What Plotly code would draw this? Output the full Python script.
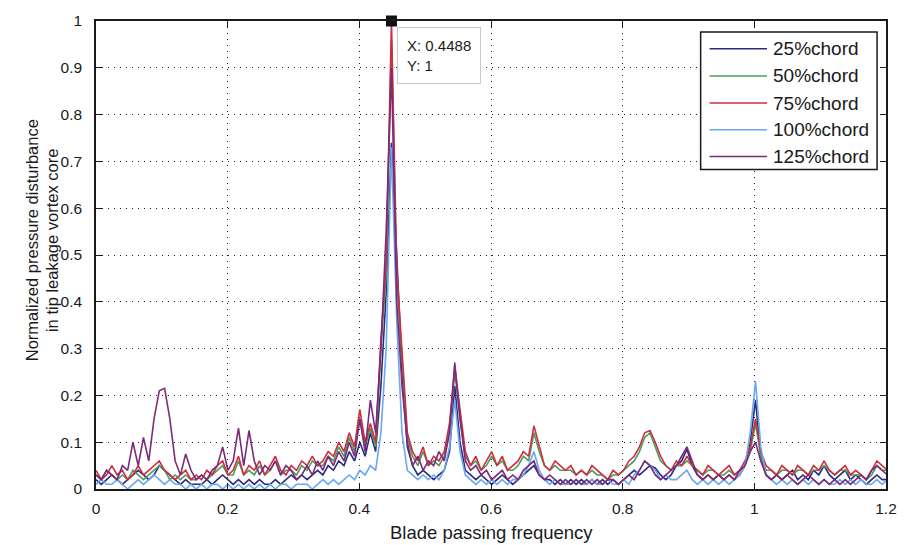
import numpy as np
import plotly.graph_objects as go

# Spectral bin width of the FFT (peak bin 56 sits at 0.4488)
BIN_WIDTH = 0.4488 / 56
N_BINS = 151
freq = np.arange(N_BINS) * BIN_WIDTH

labels = ["25%chord", "50%chord", "75%chord", "100%chord", "125%chord"]
colors = ["#2b2b82", "#4f9c5c", "#cc2f40", "#6aa8f0", "#7b2b79"]

chord25 = [
    0.02, 0.01, 0.02, 0.03, 0.02, 0.01, 0.02, 0.03, 0.04, 0.03,
    0.02, 0.03, 0.05, 0.04, 0.03, 0.02, 0.01, 0.02, 0.01, 0.01,
    0.01, 0.02, 0.01, 0.02, 0.03, 0.02, 0.01, 0.02, 0.01, 0.02,
    0.01, 0.02, 0.01, 0.01, 0.02, 0.01, 0.02, 0.03, 0.02, 0.03,
    0.02, 0.03, 0.04, 0.03, 0.05, 0.04, 0.06, 0.05, 0.08, 0.06,
    0.10, 0.07, 0.12, 0.08, 0.22, 0.42, 0.74, 0.50, 0.25, 0.09,
    0.05, 0.03, 0.04, 0.03, 0.02, 0.03, 0.04, 0.08, 0.22, 0.10,
    0.04, 0.03, 0.02, 0.03, 0.02, 0.01, 0.02, 0.03, 0.02, 0.01,
    0.02, 0.03, 0.04, 0.05, 0.03, 0.02, 0.02, 0.01, 0.02, 0.01,
    0.02, 0.01, 0.02, 0.01, 0.02, 0.01, 0.02, 0.01, 0.02, 0.01,
    0.02, 0.03, 0.04, 0.03, 0.04, 0.05, 0.045, 0.03, 0.02, 0.03,
    0.05, 0.06, 0.085, 0.05, 0.03, 0.02, 0.03, 0.02, 0.03, 0.02,
    0.03, 0.02, 0.03, 0.05, 0.10, 0.19, 0.07, 0.03, 0.02, 0.03,
    0.02, 0.03, 0.04, 0.02, 0.03, 0.02, 0.04, 0.03, 0.05, 0.03,
    0.02, 0.03, 0.04, 0.02, 0.03, 0.02, 0.01, 0.02, 0.03, 0.02, 0.02,
]

chord50 = [
    0.03, 0.02, 0.04, 0.03, 0.02, 0.03, 0.02, 0.04, 0.03, 0.02,
    0.03, 0.04, 0.05, 0.04, 0.02, 0.03, 0.02, 0.03, 0.02, 0.02,
    0.03, 0.02, 0.03, 0.04, 0.05, 0.03, 0.03, 0.06, 0.03, 0.04,
    0.03, 0.05, 0.03, 0.04, 0.06, 0.03, 0.04, 0.04, 0.03, 0.05,
    0.04, 0.06, 0.05, 0.05, 0.07, 0.06, 0.09, 0.07, 0.11, 0.08,
    0.15, 0.09, 0.13, 0.09, 0.30, 0.46, 0.96, 0.45, 0.28, 0.11,
    0.07, 0.05, 0.08, 0.05, 0.06, 0.05, 0.07, 0.13, 0.25, 0.15,
    0.07, 0.05, 0.06, 0.04, 0.05, 0.07, 0.05, 0.06, 0.04, 0.04,
    0.05, 0.07, 0.06, 0.12, 0.08, 0.05, 0.04, 0.05, 0.04, 0.04,
    0.04, 0.03, 0.04, 0.03, 0.04, 0.03, 0.03, 0.02, 0.03, 0.03,
    0.04, 0.05, 0.06, 0.08, 0.11, 0.12, 0.09, 0.06, 0.05, 0.04,
    0.05, 0.05, 0.06, 0.05, 0.04, 0.03, 0.04, 0.04, 0.03, 0.03,
    0.04, 0.03, 0.04, 0.05, 0.08, 0.14, 0.07, 0.04, 0.04, 0.03,
    0.04, 0.04, 0.03, 0.04, 0.04, 0.03, 0.04, 0.04, 0.05, 0.04,
    0.03, 0.04, 0.04, 0.03, 0.03, 0.03, 0.02, 0.03, 0.05, 0.04, 0.04,
]

chord75 = [
    0.04, 0.02, 0.03, 0.05, 0.03, 0.04, 0.02, 0.03, 0.05, 0.03,
    0.04, 0.05, 0.06, 0.04, 0.03, 0.02, 0.03, 0.04, 0.02, 0.03,
    0.02, 0.04, 0.03, 0.05, 0.06, 0.03, 0.04, 0.07, 0.03, 0.05,
    0.04, 0.06, 0.03, 0.05, 0.07, 0.04, 0.03, 0.05, 0.04, 0.06,
    0.05, 0.07, 0.05, 0.06, 0.08, 0.07, 0.10, 0.08, 0.12, 0.09,
    0.17, 0.10, 0.14, 0.10, 0.32, 0.48, 1.00, 0.47, 0.30, 0.12,
    0.08, 0.06, 0.09, 0.05, 0.07, 0.06, 0.08, 0.14, 0.26, 0.17,
    0.08, 0.05, 0.07, 0.04, 0.06, 0.08, 0.05, 0.07, 0.04, 0.05,
    0.06, 0.08, 0.07, 0.135, 0.09, 0.05, 0.04, 0.06, 0.05, 0.04,
    0.05, 0.03, 0.04, 0.03, 0.05, 0.04, 0.03, 0.02, 0.04, 0.03,
    0.04, 0.06, 0.07, 0.09, 0.12, 0.125, 0.10, 0.07, 0.05, 0.04,
    0.06, 0.05, 0.07, 0.05, 0.04, 0.03, 0.05, 0.04, 0.03, 0.04,
    0.05, 0.03, 0.04, 0.06, 0.09, 0.15, 0.08, 0.05, 0.04, 0.03,
    0.05, 0.04, 0.03, 0.05, 0.04, 0.03, 0.05, 0.04, 0.06, 0.04,
    0.03, 0.04, 0.05, 0.03, 0.04, 0.03, 0.02, 0.04, 0.06, 0.05, 0.04,
]

chord100 = [
    0.01, 0.02, 0.01, 0.01, 0.02, 0.01, 0.00, 0.01, 0.02, 0.01,
    0.02, 0.03, 0.02, 0.01, 0.02, 0.01, 0.01, 0.00, 0.01, 0.00,
    0.01, 0.00, 0.01, 0.01, 0.00, 0.01, 0.00, 0.01, 0.00, 0.01,
    0.00, 0.01, 0.00, 0.01, 0.00, 0.01, 0.01, 0.00, 0.01, 0.01,
    0.01, 0.00, 0.01, 0.02, 0.01, 0.02, 0.01, 0.02, 0.03, 0.02,
    0.04, 0.03, 0.05, 0.04, 0.12, 0.30, 0.73, 0.36, 0.12, 0.04,
    0.03, 0.02, 0.03, 0.02, 0.03, 0.02, 0.04, 0.09, 0.19, 0.08,
    0.03, 0.02, 0.01, 0.02, 0.01, 0.02, 0.01, 0.02, 0.01, 0.02,
    0.02, 0.03, 0.05, 0.08, 0.04, 0.02, 0.01, 0.02, 0.01, 0.01,
    0.01, 0.02, 0.01, 0.01, 0.02, 0.01, 0.01, 0.02, 0.01, 0.01,
    0.02, 0.01, 0.03, 0.04, 0.06, 0.05, 0.04, 0.02, 0.03, 0.02,
    0.02, 0.03, 0.04, 0.02, 0.01, 0.02, 0.01, 0.02, 0.01, 0.02,
    0.01, 0.02, 0.03, 0.05, 0.12, 0.23, 0.09, 0.03, 0.02, 0.01,
    0.02, 0.01, 0.02, 0.01, 0.02, 0.01, 0.02, 0.01, 0.02, 0.01,
    0.01, 0.02, 0.01, 0.02, 0.01, 0.02, 0.01, 0.01, 0.02, 0.01, 0.02,
]

chord125 = [
    0.03, 0.02, 0.04, 0.03, 0.02, 0.05, 0.04, 0.10, 0.05, 0.11,
    0.06, 0.15, 0.21, 0.215, 0.15, 0.06, 0.03, 0.075, 0.04, 0.02,
    0.03, 0.02, 0.04, 0.05, 0.09, 0.04, 0.06, 0.13, 0.05, 0.125,
    0.06, 0.03, 0.05, 0.04, 0.06, 0.03, 0.05, 0.04, 0.02, 0.03,
    0.05, 0.03, 0.06, 0.04, 0.07, 0.05, 0.08, 0.06, 0.10, 0.07,
    0.15, 0.08, 0.19, 0.12, 0.30, 0.55, 0.90, 0.40, 0.22, 0.10,
    0.05, 0.07, 0.04, 0.06, 0.05, 0.08, 0.06, 0.12, 0.27, 0.15,
    0.06, 0.04, 0.05, 0.03, 0.04, 0.02, 0.03, 0.04, 0.02, 0.03,
    0.02, 0.04, 0.05, 0.06, 0.03, 0.02, 0.03, 0.02, 0.01, 0.02,
    0.01, 0.02, 0.01, 0.02, 0.01, 0.02, 0.01, 0.02, 0.02, 0.01,
    0.02, 0.03, 0.02, 0.04, 0.06, 0.05, 0.03, 0.02, 0.03, 0.04,
    0.05, 0.07, 0.09, 0.06, 0.03, 0.02, 0.03, 0.02, 0.03, 0.02,
    0.03, 0.02, 0.04, 0.05, 0.08, 0.10, 0.06, 0.03, 0.02, 0.03,
    0.02, 0.03, 0.02, 0.01, 0.02, 0.03, 0.02, 0.01, 0.02, 0.01,
    0.02, 0.01, 0.02, 0.01, 0.02, 0.03, 0.02, 0.04, 0.05, 0.04, 0.03,
]

series = [chord25, chord50, chord75, chord100, chord125]

# Data cursor readout at the dominant peak
tip_x = 0.4488
tip_y = 1

x_ticks = [0, 0.2, 0.4, 0.6, 0.8, 1, 1.2]
y_ticks = [0, 0.1, 0.2, 0.3, 0.4, 0.5, 0.6, 0.7, 0.8, 0.9, 1]

x_title = "Blade passing frequency"
y_title_lines = ["Normalized pressure disturbance", "in tip leakage vortex core"]

FONT = "Liberation Sans, Arial, sans-serif"
TXT = "#1a1a1a"
AXC = "#1a1a1a"

# Plot-area geometry in pixels (used to place the paper-referenced decorations)
W, H = 909, 545
L, R, T, B = 96, 16, 16, 56
PW, PH = W - L - R, H - T - B


def px_x(px):
    return (px - L) / PW


def px_y(py):
    return (H - B - py) / PH


fig = go.Figure()
for name, col, vals in zip(labels, colors, series):
    fig.add_trace(go.Scatter(
        x=freq, y=vals, mode="lines", name=name, showlegend=False,
        line=dict(color=col, width=1.6),
    ))

fig.add_trace(go.Scatter(
    x=[tip_x], y=[tip_y], mode="markers", showlegend=False,
    marker=dict(symbol="square", size=11, color="#111111"),
    cliponaxis=False,
))

fig.add_annotation(
    x=tip_x, y=tip_y, xref="x", yref="y",
    text=f"X: {tip_x}<br>Y: {tip_y}",
    showarrow=False, xanchor="left", yanchor="top", align="left",
    xshift=6, yshift=-6,
    font=dict(family=FONT, size=15, color="#1a1a1a"),
    bgcolor="white", bordercolor="#c8c8c8", borderwidth=1, borderpad=9,
)

# Legend box with long line samples
legend_left, legend_right = 706, 884
legend_top, legend_bottom = 27, 166
row_y = [44, 71.5, 99, 126, 153]
fig.add_shape(
    type="rect", xref="paper", yref="paper",
    x0=px_x(legend_left), x1=px_x(legend_right),
    y0=px_y(legend_bottom), y1=px_y(legend_top),
    line=dict(color=AXC, width=1.5), fillcolor="white", layer="above",
)
for name, col, ry in zip(labels, colors, row_y):
    fig.add_shape(
        type="line", xref="paper", yref="paper",
        x0=px_x(715), x1=px_x(773), y0=px_y(ry), y1=px_y(ry),
        line=dict(color=col, width=1.5), layer="above",
    )
    fig.add_annotation(
        x=px_x(777), y=px_y(ry), xref="paper", yref="paper",
        text=name, showarrow=False, xanchor="left", yanchor="middle",
        font=dict(family=FONT, size=19, color=TXT),
    )

# Axis titles
fig.add_annotation(
    x=0.5, y=px_y(533), xref="paper", yref="paper",
    text=x_title, showarrow=False, xanchor="center", yanchor="middle",
    font=dict(family=FONT, size=18.5, color=TXT),
)
for line, cx in zip(y_title_lines, [31, 51]):
    fig.add_annotation(
        x=px_x(cx), y=px_y(238), xref="paper", yref="paper",
        text=line, showarrow=False, textangle=-90,
        xanchor="center", yanchor="middle",
        font=dict(family=FONT, size=16.5, color=TXT),
    )

axis_common = dict(
    showline=True, linecolor=AXC, linewidth=1.5, mirror="ticks",
    ticks="inside", ticklen=6, tickcolor=AXC,
    showgrid=True, gridcolor="#222222", griddash="1px,5px", gridwidth=1.3,
    zeroline=False,
    tickfont=dict(family=FONT, size=15.5, color=TXT),
)

fig.update_xaxes(range=[0, 1.2], tickvals=x_ticks, ticklabelstandoff=5,
                 **axis_common)
fig.update_yaxes(range=[0, 1], tickvals=y_ticks, ticklabelstandoff=9,
                 **axis_common)

fig.update_layout(
    width=W, height=H,
    margin=dict(l=L, r=R, t=T, b=B),
    paper_bgcolor="white", plot_bgcolor="white",
    font=dict(family=FONT, color=TXT),
    showlegend=False,
)

fig.write_html("out.html")
